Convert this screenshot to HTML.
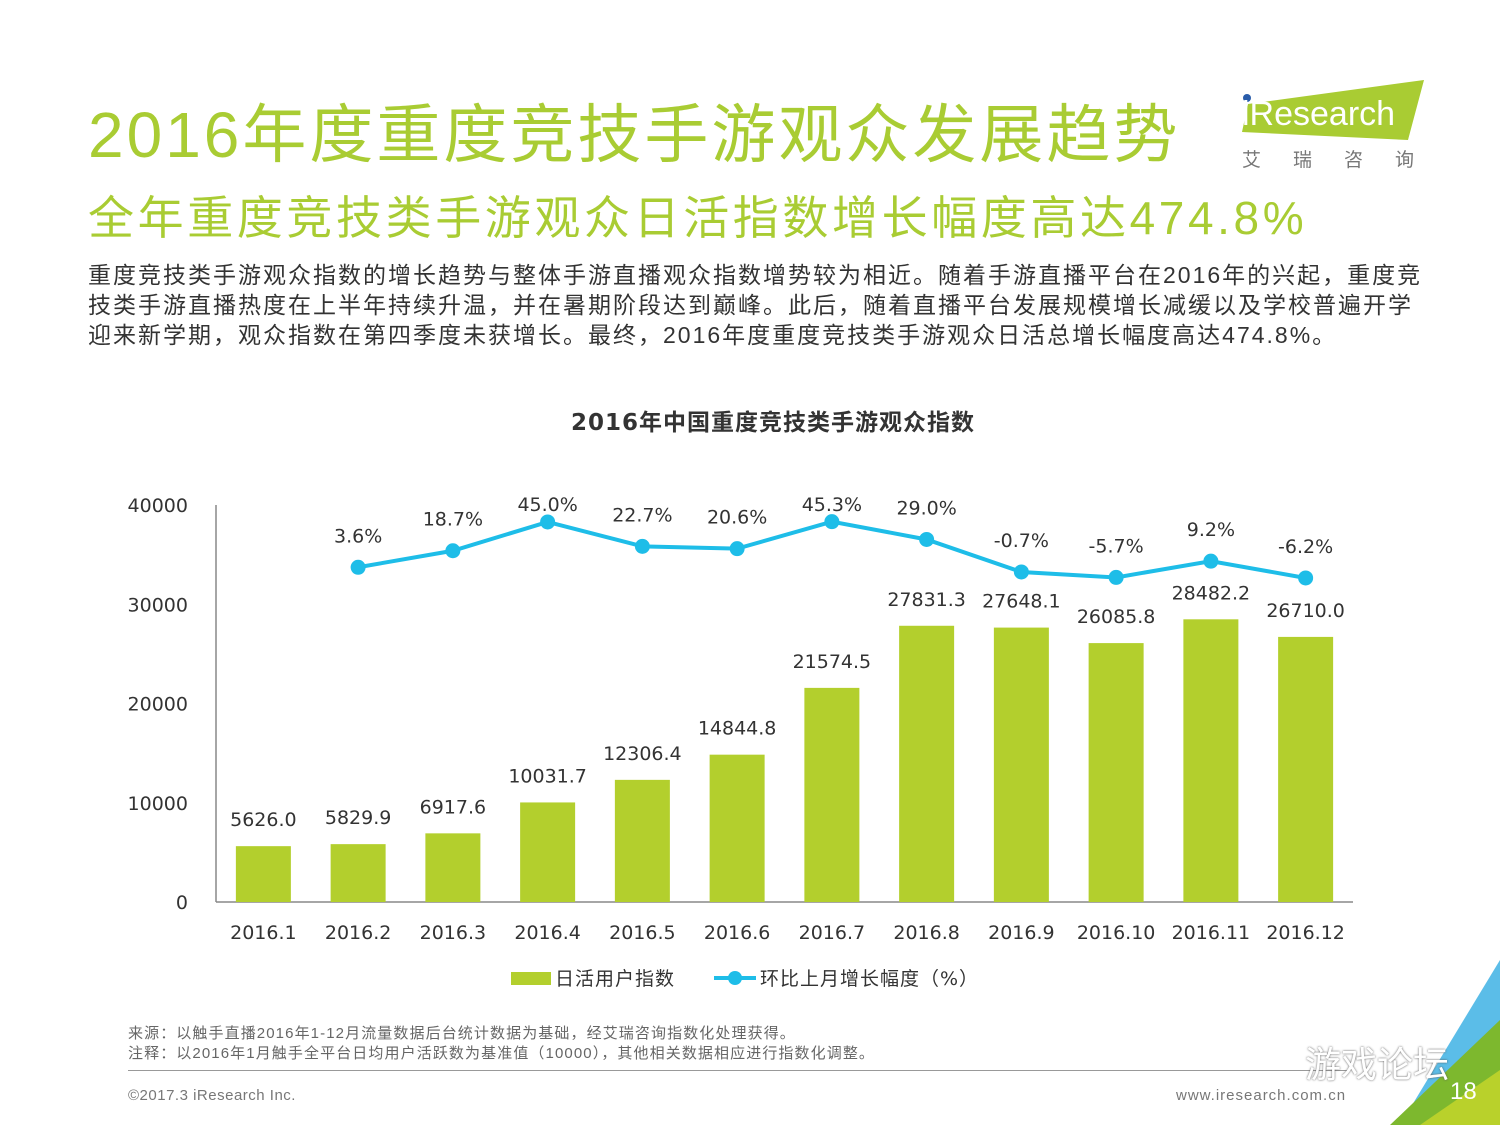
<!DOCTYPE html>
<html><head><meta charset="utf-8">
<style>
body{margin:0;width:1500px;height:1125px;background:#fff;position:relative;overflow:hidden;font-family:"Liberation Sans","Noto Sans CJK SC",sans-serif}
.abs{position:absolute;white-space:nowrap}
</style></head><body>
<div class="abs" style="left:88px;top:84px;font-size:64px;color:#a9cc33;letter-spacing:3px">2016年度重度竞技手游观众发展趋势</div>
<div class="abs" style="left:88px;top:182px;font-size:46px;color:#a9cc33;letter-spacing:3.6px">全年重度竞技类手游观众日活指数增长幅度高达474.8%</div>
<div style="position:absolute;left:1238px;top:80px;width:190px;height:95px">
<svg width="190" height="95"><polygon points="10,24 186,0 170,60 4,52" fill="#a9cc33"/><circle cx="9" cy="18" r="4" fill="#2a5caa"/><text x="4" y="45" font-size="34" fill="#fff" font-family="Liberation Sans,sans-serif">iResearch</text>
<text x="4" y="86" font-size="19" fill="#777" font-family="Noto Sans CJK SC,sans-serif" letter-spacing="32">艾瑞咨询</text></svg></div>
<div class="abs" style="left:88px;top:260px;font-size:23px;line-height:30px;color:#333;letter-spacing:2px">重度竞技类手游观众指数的增长趋势与整体手游直播观众指数增势较为相近。随着手游直播平台在2016年的兴起，重度竞<br>技类手游直播热度在上半年持续升温，并在暑期阶段达到巅峰。此后，随着直播平台发展规模增长减缓以及学校普遍开学<br>迎来新学期，观众指数在第四季度未获增长。最终，2016年度重度竞技类手游观众日活总增长幅度高达474.8%。</div>
<svg id="chart" style="position:absolute;left:0;top:0" width="1500" height="1125"></svg>
<div class="abs" style="left:128px;top:1024px;font-size:15px;line-height:20px;color:#666;letter-spacing:1.1px">来源：以触手直播2016年1-12月流量数据后台统计数据为基础，经艾瑞咨询指数化处理获得。<br>注释：以2016年1月触手全平台日均用户活跃数为基准值（10000），其他相关数据相应进行指数化调整。</div>
<div style="position:absolute;left:128px;top:1070px;width:1220px;height:1px;background:#999"></div>
<div class="abs" style="left:128px;top:1087px;font-size:15px;color:#777;letter-spacing:0.5px">©2017.3 iResearch Inc.</div>
<div class="abs" style="left:1176px;top:1087px;font-size:15px;color:#777;letter-spacing:1px">www.iresearch.com.cn</div>
<svg style="position:absolute;left:1380px;top:960px" width="120" height="165"><polygon points="120,0 120,165 20,165" fill="#5bbde8"/><polygon points="120,60 120,165 10,165" fill="#7db82e"/><polygon points="120,110 120,165 40,165" fill="#b9d12b"/></svg>
<div class="abs" style="left:1450px;top:1078px;font-size:24px;color:#fff">18</div>
<div class="abs" style="left:1305px;top:1036px;font-size:36px;color:#fff;text-shadow:0 0 2px #555">游戏论坛</div>
<script>
const categories=["2016.1","2016.2","2016.3","2016.4","2016.5","2016.6","2016.7","2016.8","2016.9","2016.10","2016.11","2016.12"];
const barValues=[5626.0,5829.9,6917.6,10031.7,12306.4,14844.8,21574.5,27831.3,27648.1,26085.8,28482.2,26710.0];
const growthValues=[null,3.6,18.7,45.0,22.7,20.6,45.3,29.0,-0.7,-5.7,9.2,-6.2];
const yTicks=[0,10000,20000,30000,40000];
const NS="http://www.w3.org/2000/svg";
const svg=document.getElementById('chart');
const x0=216,x1=1353,yBase=902,yTop=505;
const step=(x1-x0)/categories.length;
const xc=i=>x0+step*(i+0.5);
const y=v=>yBase-(v/40000)*(yBase-yTop);
const y2=p=>571.2-1.094*p;
const F='"DejaVu Sans","Noto Sans CJK SC",sans-serif';
function mk(t,a){const e=document.createElementNS(NS,t);for(const k in a)e.setAttribute(k,a[k]);svg.appendChild(e);return e;}
function txt(x,yy,s,size,anchor,col,weight){const e=mk('text',{x:x,y:yy,'font-size':size,'text-anchor':anchor,fill:col||'#333','font-family':F,'font-weight':weight||'normal'});e.textContent=s;return e;}
let t=txt(773,430,"2016年中国重度竞技类手游观众指数",23,'middle','#333','bold');
t.setAttribute('letter-spacing','1');


yTicks.forEach(v=>{const e=txt(188,y(v)+7,String(v),19,'end','#333');

});
let ax=mk('line',{x1:x0,y1:yTop,x2:x0,y2:yBase,stroke:'#888','stroke-width':1.5});


let bx=mk('line',{x1:x0,y1:yBase,x2:x1,y2:yBase,stroke:'#888','stroke-width':1.5});


const bw=55;
barValues.forEach((v,i)=>{const r=mk('rect',{x:xc(i)-bw/2,y:y(v),width:bw,height:yBase-y(v),fill:'#b3cf2d'});


const l=txt(xc(i),y(v)-20,v.toFixed(1),19,'middle','#333');


const c=txt(xc(i),939,categories[i],19,'middle','#333');

});
let pts=[];growthValues.forEach((p,i)=>{if(p!==null)pts.push([xc(i),y2(p)]);});
let pl=mk('polyline',{points:pts.map(q=>q.join(',')).join(' '),fill:'none',stroke:'#1ebde8','stroke-width':4});


growthValues.forEach((p,i)=>{if(p===null)return;
const c=mk('circle',{cx:xc(i),cy:y2(p),r:7.5,fill:'#1ebde8'});


const ly=Math.max(511,y2(p)-25);
const l=txt(xc(i),ly,p.toFixed(1)+'%',19,'middle','#333');

});
let lg=mk('rect',{x:511,y:972,width:40,height:13,fill:'#b3cf2d'});


let lt=txt(555,985,'日活用户指数',19,'start','#333');
lt.setAttribute('letter-spacing','1');


let ll=mk('line',{x1:714,y1:978,x2:756,y2:978,stroke:'#1ebde8','stroke-width':4});


let lc=mk('circle',{cx:735,cy:978,r:7,fill:'#1ebde8'});


let lt2=txt(760,985,'环比上月增长幅度（%）',19,'start','#333');
lt2.setAttribute('letter-spacing','1');


</script>
</body></html>
